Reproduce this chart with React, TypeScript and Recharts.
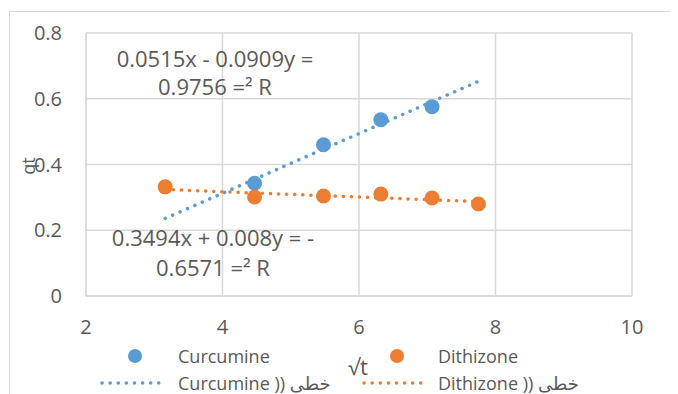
import React from 'react';
import { ScatterChart, Scatter, XAxis, YAxis, CartesianGrid, Customized } from 'recharts';

// sqrt(t) values and measured qt
const curcumine = [
  { x: 4.47, y: 0.343 },
  { x: 5.48, y: 0.46 },
  { x: 6.32, y: 0.536 },
  { x: 7.07, y: 0.576 },
];

const dithizone = [
  { x: 3.16, y: 0.332 },
  { x: 4.47, y: 0.301 },
  { x: 5.48, y: 0.304 },
  { x: 6.32, y: 0.31 },
  { x: 7.07, y: 0.298 },
  { x: 7.75, y: 0.28 },
];

// trendline end points
const curcumineTrend = [
  { x: 3.16, y: 0.236 },
  { x: 7.75, y: 0.653 },
];
const dithizoneTrend = [
  { x: 3.16, y: 0.324 },
  { x: 7.75, y: 0.287 },
];

const xTicks = [2, 4, 6, 8, 10];
const yTicks = [0, 0.2, 0.4, 0.6, 0.8];

const curcumineEq = ['0.0515x - 0.0909y =', '0.9756 =² R'];
const dithizoneEq = ['0.3494x + 0.008y = -', '0.6571 =² R'];

const BLUE = '#5B9BD5';
const ORANGE = '#ED7D31';
const TEXT = '#595959';
const GRID = '#D9D9D9';
const FONT = '"Open Sans", "DejaVu Sans", sans-serif';

const noShape = () => <g />;

const Annotations = () => (
  <g fontFamily={FONT} fill={TEXT}>
    <text x={207} y={59} fontSize={22} textAnchor="middle" direction="ltr">{curcumineEq[0]}</text>
    <text x={207} y={87} fontSize={22} textAnchor="middle" direction="ltr">{curcumineEq[1]}</text>
    <text x={205} y={238} fontSize={22} textAnchor="middle" direction="ltr">{dithizoneEq[0]}</text>
    <text x={205} y={268} fontSize={22} textAnchor="middle" direction="ltr">{dithizoneEq[1]}</text>
    <text x={22} y={158} fontSize={18} textAnchor="middle" transform="rotate(-90 22 158)" dominantBaseline="middle">qt</text>
    <text x={350} y={367} fontSize={22} textAnchor="middle">√t</text>
  </g>
);

const legendText: React.CSSProperties = {
  position: 'absolute',
  fontFamily: FONT,
  fontSize: 18,
  color: TEXT,
  lineHeight: '20px',
  whiteSpace: 'nowrap',
  direction: 'ltr',
};

const Dot = ({ left, top, color }: { left: number; top: number; color: string }) => (
  <div style={{ position: 'absolute', left: left - 7, top: top - 7, width: 14, height: 14, borderRadius: 7, background: color }} />
);

const DottedLine = ({ left, width, top, color }: { left: number; width: number; top: number; color: string }) => (
  <svg style={{ position: 'absolute', left, top: top - 3 }} width={width} height={6}>
    <line x1={2} y1={3} x2={width - 2} y2={3} stroke={color} strokeWidth={3.5} strokeLinecap="round" strokeDasharray="0.1 8" />
  </svg>
);

export default function App() {
  return (
    <div style={{ position: 'relative', width: 670, height: 386, overflow: 'hidden', background: '#fff' }}>
      <div style={{ position: 'absolute', left: 1, top: 3, width: 720, height: 420, border: `1px solid ${GRID}` }} />
      <ScatterChart width={670} height={386} margin={{ top: 25, right: 46, left: 18, bottom: 68 }}>
        <CartesianGrid stroke={GRID} strokeWidth={1.5} />
        <XAxis
          type="number"
          dataKey="x"
          domain={[2, 10]}
          ticks={xTicks}
          tickSize={0}
          tickMargin={24}
          height={30}
          axisLine={{ stroke: GRID, strokeWidth: 1.5 }}
          tick={{ fill: TEXT, fontSize: 20, fontFamily: FONT }}
        />
        <YAxis
          type="number"
          dataKey="y"
          domain={[0, 0.8]}
          ticks={yTicks}
          tickSize={0}
          tickMargin={24}
          width={60}
          axisLine={{ stroke: GRID, strokeWidth: 1.5 }}
          tick={{ fill: TEXT, fontSize: 20, fontFamily: FONT }}
        />
        <Scatter
          name="curcumineTrend"
          data={curcumineTrend}
          line={{ stroke: BLUE, strokeWidth: 3.5, strokeDasharray: '0.1 8', strokeLinecap: 'round' }}
          shape={noShape}
          isAnimationActive={false}
        />
        <Scatter
          name="dithizoneTrend"
          data={dithizoneTrend}
          line={{ stroke: ORANGE, strokeWidth: 3.5, strokeDasharray: '0.1 8', strokeLinecap: 'round' }}
          shape={noShape}
          isAnimationActive={false}
        />
        <Scatter name="Curcumine" data={curcumine} fill={BLUE} shape={(p: any) => <circle cx={p.cx} cy={p.cy} r={7.5} fill={BLUE} />} isAnimationActive={false} />
        <Scatter name="Dithizone" data={dithizone} fill={ORANGE} shape={(p: any) => <circle cx={p.cx} cy={p.cy} r={7.5} fill={ORANGE} />} isAnimationActive={false} />
        <Customized component={Annotations} />
      </ScatterChart>
      <Dot left={127} top={348} color={BLUE} />
      <div style={{ ...legendText, left: 170, top: 338 }}>Curcumine</div>
      <Dot left={389} top={348} color={ORANGE} />
      <div style={{ ...legendText, left: 430, top: 338 }}>Dithizone</div>
      <DottedLine left={92} width={66} top={375} color={BLUE} />
      <div style={{ ...legendText, left: 170, top: 365 }}>Curcumine )) خطى</div>
      <DottedLine left={354} width={66} top={375} color={ORANGE} />
      <div style={{ ...legendText, left: 430, top: 365 }}>Dithizone )) خطى</div>
    </div>
  );
}
